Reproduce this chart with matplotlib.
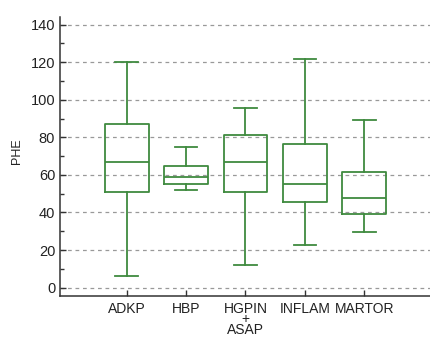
import matplotlib
matplotlib.use("Agg")
import matplotlib.pyplot as plt
from matplotlib.ticker import MultipleLocator

plt.rcParams['font.family'] = ['Liberation Sans', 'DejaVu Sans']

groups = ['ADKP', 'HBP', 'HGPIN\n+\nASAP', 'INFLAM', 'MARTOR']
whislo = [6.4, 51.8, 12.1, 22.9, 29.5]
q1 = [51.0, 55.3, 51.0, 45.4, 39.1]
med = [66.9, 59.0, 67.0, 55.3, 47.5]
q3 = [87.1, 64.7, 81.1, 76.3, 61.7]
whishi = [120.2, 74.9, 95.7, 121.7, 89.3]

green = '#3f8a3f'

stats = []
for i in range(len(groups)):
    stats.append(dict(label=groups[i], whislo=whislo[i], q1=q1[i], med=med[i],
                      q3=q3[i], whishi=whishi[i], fliers=[]))

fig = plt.figure(figsize=(4.31, 3.38), dpi=100)
ax = fig.add_axes([60/431, 1 - 296/338, 1 - 60/431, (296 - 17)/338])

lw = 1.3
ax.bxp(stats, positions=range(1, len(groups) + 1), widths=0.74, showfliers=False,
       boxprops=dict(color=green, linewidth=lw),
       medianprops=dict(color=green, linewidth=lw),
       whiskerprops=dict(color=green, linewidth=lw),
       capprops=dict(color=green, linewidth=lw),
       capwidths=0.38)

ax.set_xlim(-0.12, 6.12)
ax.set_ylim(-4.5, 144.1)
ax.yaxis.set_major_locator(MultipleLocator(20))
ax.yaxis.set_minor_locator(MultipleLocator(10))
ax.grid(axis='y', which='major', linestyle=(0, (3, 3)), color='#999999', linewidth=0.9)
ax.set_axisbelow(True)

for s in ['top', 'right']:
    ax.spines[s].set_visible(False)
for s in ['left', 'bottom']:
    ax.spines[s].set_color('#333333')
    ax.spines[s].set_linewidth(1.1)

ax.tick_params(axis='both', which='major', direction='in', length=4, width=1,
               color='#333333', labelsize=10.5, labelcolor='#222222')
ax.tick_params(axis='y', which='minor', direction='in', length=3, width=1, color='#333333')
ax.tick_params(axis='x', pad=4)
for t in ax.get_xticklabels():
    t.set_linespacing(0.72)
    t.set_fontsize(10)

ax.set_ylabel('PHE', fontsize=9, color='#222222')
ax.yaxis.set_label_coords(-0.1, 0.52)

fig.savefig('out.png', dpi=100)
